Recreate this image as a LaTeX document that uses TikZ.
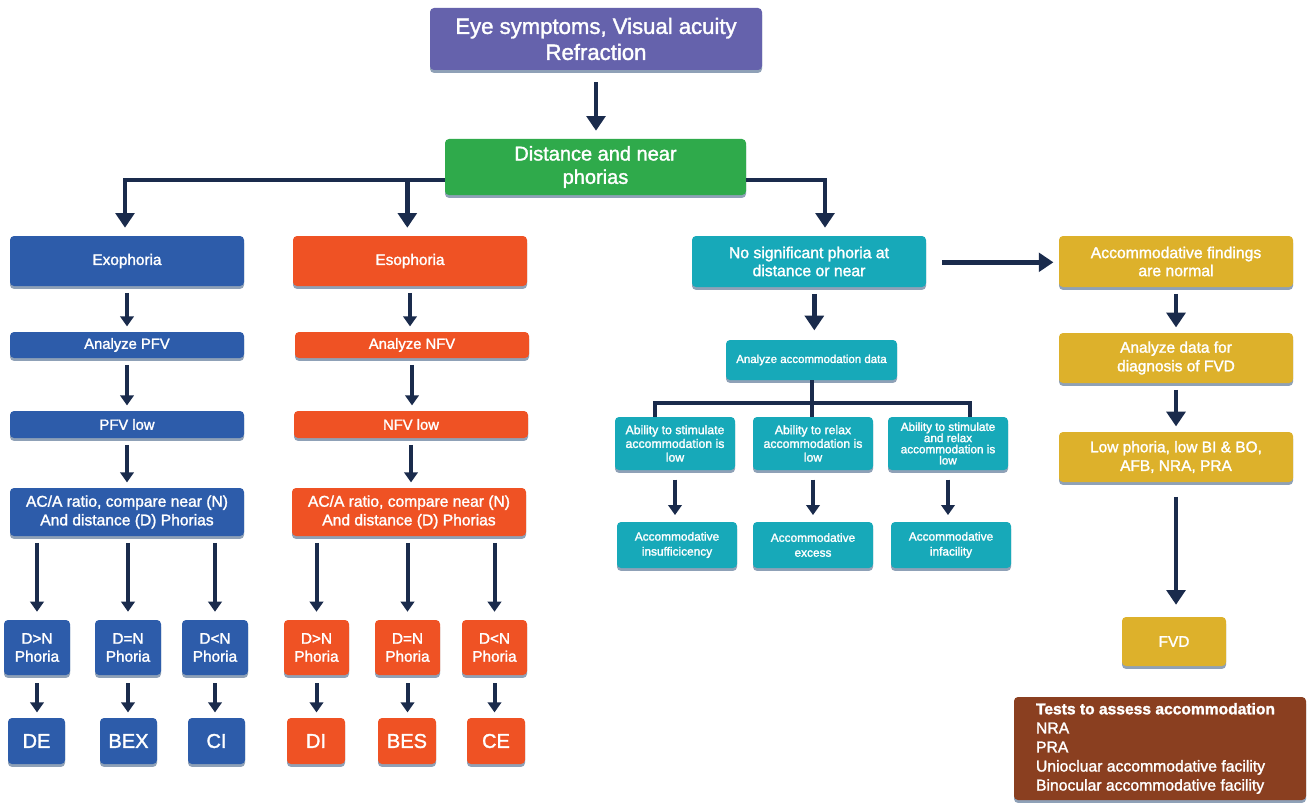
\documentclass[tikz,border=0pt]{standalone}
\usepackage{fontspec}
\setmainfont{Liberation Sans}
\newfontfamily\medf{Liberation Sans}[FakeBold=1.6]
\usetikzlibrary{arrows.meta,calc}

\definecolor{cPur}{HTML}{6562AC}
\definecolor{cGrn}{HTML}{2FAA4B}
\definecolor{cBlu}{HTML}{2D5CAA}
\definecolor{cOrg}{HTML}{EF5224}
\definecolor{cTel}{HTML}{17A9B9}
\definecolor{cYel}{HTML}{DDB12B}
\definecolor{cBrn}{HTML}{8A3F20}
\definecolor{cNav}{HTML}{1A2B4C}
\definecolor{cShd}{HTML}{8FA1B7}

\tikzset{
  box/.style={rounded corners=3pt, inner sep=1pt, text=white, align=center,
    preaction={fill=cShd, transform canvas={yshift=-2.2pt}}},
  arr/.style={draw=cNav, line width=3pt, -{Triangle[width=10pt,length=7.5pt]},
    shorten <=5pt, shorten >=4pt},
  bigarr/.style={arr, line width=3.6pt, -{Triangle[width=14pt,length=11pt]}},
  ln/.style={draw=cNav, line width=3pt},
}

% box from pixel corners: name, x1, y1, x2, y2, colour, font, text
\newcommand\bx[8]{%
  \node[box, fill=#6, font={\medf#7}, minimum width={(#4-#2)*0.75pt},
        minimum height={(#5-#3)*0.75pt}] (#1)
        at ({(#2+#4)/2},{(#3+#5)/2}) {#8};}
\newcommand\fz[2]{\fontsize{#1}{#2}\selectfont}
% straight downward connector between two stacked boxes
\newcommand\down[3][]{\draw[arr,#1] (#2.south) -- (#2.south |- #3.north);}

\begin{document}
\begin{tikzpicture}[x=0.75pt,y=-0.75pt]
\useasboundingbox[fill=white] (0,0) rectangle (1308,806);

% top of the tree
\bx{top}{430}{8}{762}{70}{cPur}{\fz{16.6}{19.5}}{Eye symptoms, Visual acuity\\Refraction}
\bx{dnp}{445}{139}{746}{195}{cGrn}{\fz{15}{17.5}}{Distance and near\\phorias}

% phoria classes
\bx{exo}{10}{236}{244}{286}{cBlu}{\fz{11.5}{13}}{Exophoria}
\bx{eso}{293}{236}{527}{286}{cOrg}{\fz{11.5}{13}}{Esophoria}
\bx{nosig}{692}{236}{926}{287}{cTel}{\fz{11.8}{13.5}}{No significant phoria at\\distance or near}
\bx{norm}{1059}{236}{1293}{287}{cYel}{\fz{11.8}{13.5}}{Accommodative findings\\are normal}

% exophoria branch
\bx{apfv}{10}{332}{244}{358}{cBlu}{\fz{11.1}{12}}{Analyze PFV}
\bx{pfvl}{10}{411}{244}{438}{cBlu}{\fz{11.1}{12}}{PFV low}
\bx{acx}{10}{488}{244}{536}{cBlu}{\fz{11.7}{14}}{AC/A ratio, compare near (N)\\And distance (D) Phorias}
\bx{xg}{4}{620}{70}{675}{cBlu}{\fz{11.5}{13.5}}{D>N\\Phoria}
\bx{xe}{95}{620}{161}{675}{cBlu}{\fz{11.5}{13.5}}{D=N\\Phoria}
\bx{xl}{182}{620}{248}{675}{cBlu}{\fz{11.5}{13.5}}{D<N\\Phoria}
\bx{de}{8}{718}{65}{764}{cBlu}{\fz{15}{16}}{DE}
\bx{bex}{100}{718}{157}{764}{cBlu}{\fz{15}{16}}{BEX}
\bx{ci}{188}{718}{245}{764}{cBlu}{\fz{15}{16}}{CI}

% esophoria branch
\bx{anfv}{295}{332}{529}{358}{cOrg}{\fz{11.1}{12}}{Analyze NFV}
\bx{nfvl}{294}{411}{528}{438}{cOrg}{\fz{11.1}{12}}{NFV low}
\bx{ace}{292}{488}{526}{536}{cOrg}{\fz{11.7}{14}}{AC/A ratio, compare near (N)\\And distance (D) Phorias}
\bx{eg}{284}{620}{349}{675}{cOrg}{\fz{11.5}{13.5}}{D>N\\Phoria}
\bx{ee}{375}{620}{440}{675}{cOrg}{\fz{11.5}{13.5}}{D=N\\Phoria}
\bx{el}{462}{620}{527}{675}{cOrg}{\fz{11.5}{13.5}}{D<N\\Phoria}
\bx{di}{287}{718}{345}{764}{cOrg}{\fz{15}{16}}{DI}
\bx{bes}{378}{718}{436}{764}{cOrg}{\fz{15}{16}}{BES}
\bx{ce}{467}{718}{525}{764}{cOrg}{\fz{15}{16}}{CE}

% accommodation branch
\bx{aad}{726}{340}{897}{380}{cTel}{\fz{8.6}{10}}{Analyze accommodation data}
\bx{s1}{615}{417}{735}{470}{cTel}{\fz{9.2}{10.3}}{Ability to stimulate\\accommodation is\\low}
\bx{s2}{753}{417}{873}{470}{cTel}{\fz{9.2}{10.3}}{Ability to relax\\accommodation is\\low}
\bx{s3}{888}{417}{1008}{470}{cTel}{\fz{8.8}{8.4}}{Ability to stimulate\\and relax\\accommodation is\\low}
\bx{r1}{617}{522}{737}{568}{cTel}{\fz{8.9}{11.2}}{Accommodative\\insufficicency}
\bx{r2}{753}{522}{873}{568}{cTel}{\fz{8.9}{11.2}}{Accommodative\\excess}
\bx{r3}{891}{522}{1011}{568}{cTel}{\fz{8.9}{11.2}}{Accommodative\\infacility}

% vergence branch
\bx{adf}{1059}{333}{1293}{383}{cYel}{\fz{11.6}{14}}{Analyze data for\\diagnosis of FVD}
\bx{lph}{1059}{432}{1293}{482}{cYel}{\fz{11.6}{14}}{Low phoria, low BI \& BO,\\AFB, NRA, PRA}
\bx{fvd}{1122}{617}{1226}{666}{cYel}{\fz{11.6}{13}}{FVD}

% list of tests
\bx{tests}{1014}{697}{1306}{800}{cBrn}{}{}
\node[anchor=north west, inner sep=0pt, text=white, align=left, font={\medf\fz{11.8}{14.3}}]
  (testtxt) at ($(tests.north west)+(22,6)$)
  {{\bfseries\fz{11.7}{14.3}Tests to assess accommodation}\\NRA\\PRA\\Uniocluar accommodative facility\\Binocular accommodative facility};

% connectors: trunk
\draw[bigarr, shorten <=9pt, shorten >=6pt] (top.south) -- (top.south |- dnp.north);
\coordinate (bl) at ([yshift=-9.75pt]dnp.west);
\coordinate (br) at ([yshift=-9.75pt]dnp.east);
\draw[bigarr, shorten <=0pt, shorten >=6pt] (bl) -| ([xshift=-1.5pt]exo.north);
\draw[bigarr, shorten <=0pt, shorten >=6pt] ([xshift=-2pt]eso.north |- bl) -- ([xshift=-2pt]eso.north);
\draw[bigarr, shorten <=0pt, shorten >=6pt] (br) -| ([xshift=12pt]nosig.north);

% connectors: exophoria and esophoria
\down[xshift=-4.5pt]{exo}{apfv}
\down[xshift=-4.5pt]{apfv}{pfvl}
\down[xshift=-4.5pt]{pfvl}{acx}
\down[xshift=-4.5pt]{eso}{anfv}
\down[xshift=-4.5pt]{anfv}{nfvl}
\down[xshift=-4.5pt]{nfvl}{ace}
\foreach \a/\b in {xg/de, xe/bex, xl/ci, eg/di, ee/bes, el/ce}{
  \draw[arr, shorten >=6pt] (\a.north |- acx.south) -- (\a.north);
  \draw[arr, shorten <=6pt] (\a.south) -- (\a.south |- \b.north);
}

% connectors: accommodation
\draw[bigarr, shorten >=7pt] ([xshift=4pt]nosig.south) -- ([xshift=4pt]nosig.south |- aad.north);
\draw[ln] (aad.south) -- (aad.south |- s2.north);
\draw[ln] ($(s1.north)+(-20,0)$) -- ++(0,-14) -| ($(s3.north)+(22,0)$);
\foreach \a/\b in {s1/r1, s2/r2, s3/r3}{
  \draw[arr, line width=3.4pt, shorten <=7pt, shorten >=5pt] (\a.south) -- (\a.south |- \b.north);
}

% connectors: vergence
\draw[bigarr, shorten <=12pt, shorten >=4pt] ([yshift=-0.6pt]nosig.east) -- ([yshift=-0.6pt]nosig.east -| norm.west);
\draw[bigarr] (norm.south) -- (norm.south |- adf.north);
\draw[bigarr] (adf.south) -- (adf.south |- lph.north);
\draw[bigarr, shorten <=11pt, shorten >=9pt] (lph.south) -- (lph.south |- fvd.north);
\end{tikzpicture}
\end{document}
